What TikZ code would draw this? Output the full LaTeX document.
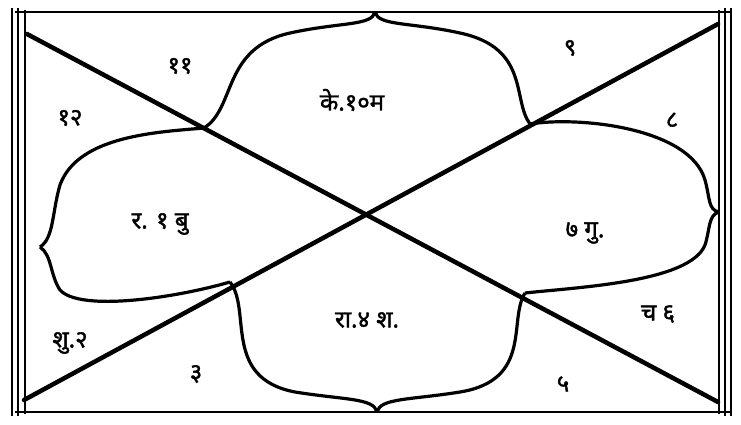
\documentclass[tikz,border=0pt]{standalone}
\usepackage{fontspec}
\newfontfamily\deva[Script=Devanagari,FakeBold=1.6]{Noto Sans}
\begin{document}
\begin{tikzpicture}[x=1pt,y=-1pt,
  frame/.style={line width=2pt,black},
  sidebar/.style={line width=2.2pt,black},
  diag/.style={line width=4.5pt,black,line cap=round},
  petal/.style={line width=3.2pt,black,line join=round},
  lbl/.style={font=\deva\fontsize{24}{28}\selectfont,inner sep=0pt}]
\useasboundingbox (0,0) rectangle (741,424);
% corners and frame
\coordinate (ftl) at (15,12);
\coordinate (ftr) at (731,12);
\coordinate (fbl) at (15,412);
\coordinate (fbr) at (731,412);
\draw[frame] (ftl) -- (ftr);
\draw[frame] (fbl) -- (fbr);
\draw[sidebar] (12,8) -- (12,416);
\draw[line width=1.2pt] (18,8) -- (18,416);
\draw[sidebar] (25,10) -- (25,414);
\draw[sidebar] (719,10) -- (719,414);
\draw[line width=1.2pt] (725,8) -- (725,416);
\draw[sidebar] (731,8) -- (731,416);
% diagonals
\coordinate (dtl) at (27,34);
\coordinate (dbr) at (718,402);
\coordinate (dbl) at (24,400);
\coordinate (dtr) at (718,24);
\draw[diag] (dtl) -- (dbr);
\draw[diag] (dbl) -- (dtr);
% petal anchor points
\coordinate (pA) at (204,128);
\coordinate (pB) at (530,124);
\coordinate (pC) at (230,282);
\coordinate (pD) at (525,293);
\coordinate (cT) at (375,12);
\coordinate (cB) at (377,412);
\coordinate (cL) at (40,247);
\coordinate (cR) at (719,212);
% top petal
\draw[petal] (pA) .. controls (236,108) and (222,48) .. (290,33)
  .. controls (340,22) and (372,26) .. (cT);
\draw[petal] (pB) .. controls (512,100) and (530,48) .. (460,33)
  .. controls (410,22) and (378,26) .. (cT);
% left petal
\draw[petal] (pA) .. controls (160,132) and (78,135) .. (60,185)
  .. controls (52,212) and (54,238) .. (cL);
\draw[petal] (pC) .. controls (175,298) and (80,312) .. (60,290)
  .. controls (50,275) and (52,255) .. (cL);
% bottom petal
\draw[petal] (pC) .. controls (252,310) and (222,378) .. (295,392)
  .. controls (345,400) and (374,398) .. (cB);
\draw[petal] (pD) .. controls (508,320) and (533,380) .. (460,392)
  .. controls (410,400) and (380,398) .. (cB);
% right petal
\draw[petal] (pB) .. controls (580,116) and (690,128) .. (705,180)
  .. controls (710,198) and (708,210) .. (cR);
\draw[petal] (pD) .. controls (580,287) and (690,282) .. (705,245)
  .. controls (710,230) and (708,215) .. (cR);
% labels
\node[lbl] (h11) at (180,66) {११};
\node[lbl] (h10) at (352,100) {के.१०म};
\node[lbl] (h12) at (70,118) {१२};
\node[lbl] (h1) at (160,224) {र. १ बु};
\node[lbl] (h9) at (570,48) {९};
\node[lbl] (h8) at (672,120) {८};
\node[lbl] (h7) at (585,233) {७ गु.};
\node[lbl] (h6) at (658,314) {च ६};
\node[lbl] (h2) at (70,343) {शु.२};
\node[lbl] (h3) at (196,374) {३};
\node[lbl] (h4) at (367,320) {रा.४ श.};
\node[lbl] (h5) at (563,384) {५};
\end{tikzpicture}
\end{document}
